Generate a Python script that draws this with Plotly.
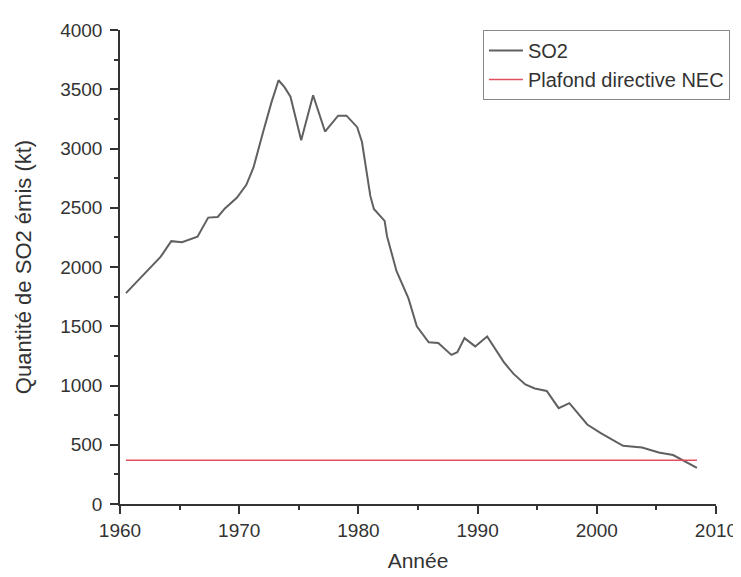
import plotly.graph_objects as go

# Vertices of the SO2 curve (year, kt)
years = [1960.5, 1962.2, 1963.4, 1964.3, 1965.2, 1966.5, 1967.4, 1968.2, 1968.8, 1969.8,
         1970.6, 1971.2, 1971.6, 1972.0, 1972.7, 1973.3, 1973.8, 1974.3, 1975.2, 1976.2,
         1977.2, 1978.3, 1979.0, 1979.9, 1980.3, 1981.0, 1981.3, 1982.2, 1982.4, 1983.2,
         1984.2, 1984.9, 1985.9, 1986.7, 1987.8, 1988.3, 1988.9, 1989.8, 1990.8, 1992.2,
         1993.0, 1994.0, 1994.8, 1995.8, 1996.8, 1997.7, 1999.2, 2000.3, 2002.2, 2003.8,
         2005.2, 2006.4, 2008.4]
so2 = [1780, 1960, 2085, 2218, 2209, 2256, 2417, 2422, 2494, 2584,
       2694, 2840, 3000, 3138, 3387, 3576, 3518, 3437, 3069, 3449,
       3143, 3277, 3277, 3180, 3055, 2600, 2490, 2389, 2260, 1965,
       1735, 1500, 1364, 1358, 1258, 1281, 1400, 1330, 1414, 1197,
       1100, 1009, 975, 954, 809, 851, 671, 601, 491, 477,
       435, 413, 305]

nec_years = [1960.5, 2008.4]
nec_ceiling = [370, 370]

series_names = ["SO2", "Plafond directive NEC"]
x_title = "Année"
y_title = "Quantité de SO2 émis (kt)"

FONT = "Liberation Sans, Arial, sans-serif"
AX = "#333333"

fig = go.Figure()
fig.add_trace(go.Scatter(x=years, y=so2, mode="lines", name=series_names[0],
                         line=dict(color="#606060", width=2)))
fig.add_trace(go.Scatter(x=nec_years, y=nec_ceiling, mode="lines", name=series_names[1],
                         line=dict(color="rgb(226,80,95)", width=1.5)))

axis_common = dict(showline=True, linecolor=AX, linewidth=1.5, ticks="outside",
                   ticklen=8, tickwidth=1.5, tickcolor=AX, showgrid=False,
                   zeroline=False, mirror=False,
                   tickfont=dict(family=FONT, size=19, color="#333333"))

fig.update_layout(
    width=741, height=577,
    margin=dict(l=112, r=33, t=15, b=81),
    paper_bgcolor="white", plot_bgcolor="white",
    font=dict(family=FONT, color="#333333"),
    xaxis=dict(range=[1960, 2010], dtick=10, tick0=1960,
               minor=dict(dtick=5, ticklen=4, ticks="outside", tickcolor=AX, tickwidth=1.5),
               title=dict(text=x_title, font=dict(family=FONT, size=21), standoff=14),
               **axis_common),
    yaxis=dict(range=[0, 4000], dtick=500, tick0=0,
               minor=dict(dtick=250, ticklen=4, ticks="outside", tickcolor=AX, tickwidth=1.5),
               title=dict(text=y_title, font=dict(family=FONT, size=22), standoff=22),
               ticklabelstandoff=4,
               **axis_common),
    showlegend=True,
    legend=dict(x=0.609, y=1.0, xanchor="left", yanchor="top",
                bgcolor="white", bordercolor="#888888", borderwidth=1,
                font=dict(family=FONT, size=20, color="#333333"),
                tracegroupgap=0, itemwidth=34),
)

fig.write_html("out.html")
